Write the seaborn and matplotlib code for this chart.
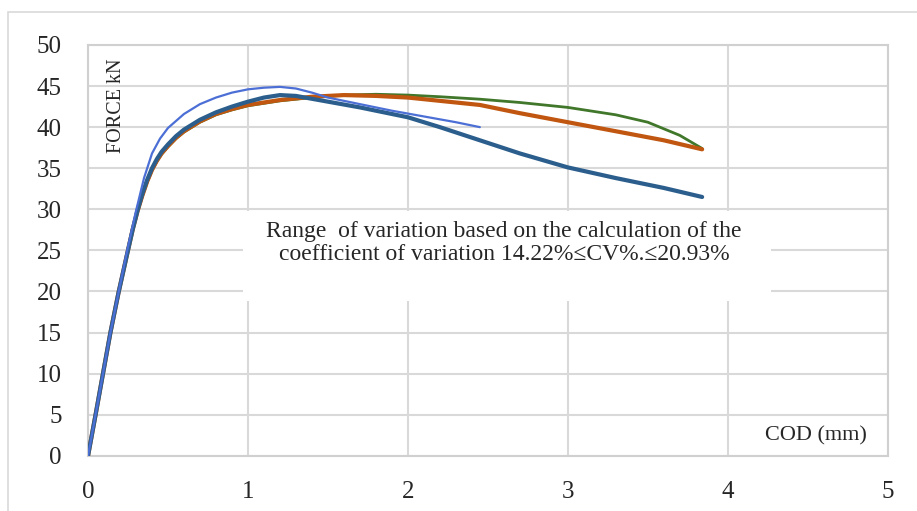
import matplotlib
matplotlib.use("Agg")
import matplotlib.pyplot as plt
import seaborn as sns
import pandas as pd
from matplotlib.patches import Rectangle

# COD (mm) / force (kN) readings for each specimen
cod_a = [0, 0.05, 0.10, 0.14, 0.19, 0.245, 0.30, 0.35, 0.40, 0.45, 0.50, 0.60, 0.70, 0.80,
         0.90, 1.00, 1.10, 1.20, 1.30, 1.40, 1.50, 1.70, 1.90, 2.10, 2.30, 2.45]
force_a = [0, 5.3, 10.7, 15.0, 19.8, 25.0, 29.8, 33.8, 36.8, 38.6, 39.9, 41.6, 42.8, 43.6,
           44.2, 44.6, 44.8, 44.9, 44.7, 44.2, 43.6, 42.8, 42.0, 41.3, 40.6, 40.0]

cod_b = [0, 0.05, 0.10, 0.14, 0.19, 0.245, 0.28, 0.31, 0.34, 0.37, 0.40, 0.43, 0.46, 0.50,
         0.55, 0.60, 0.70, 0.80, 0.90, 1.00, 1.10, 1.20, 1.30, 1.50, 1.70, 1.85, 2.00, 2.20,
         2.45, 2.70, 3.00, 3.30, 3.60, 3.84]
force_b = [0, 5.3, 10.7, 15.0, 19.8, 24.6, 27.6, 29.9, 31.9, 33.6, 35.0, 36.1, 37.0, 37.9,
           38.9, 39.7, 40.9, 41.8, 42.5, 43.1, 43.6, 43.9, 43.8, 43.1, 42.4, 41.8, 41.2, 40.0,
           38.4, 36.8, 35.1, 33.8, 32.6, 31.5]

cod_c = [0, 0.05, 0.10, 0.14, 0.19, 0.245, 0.28, 0.31, 0.34, 0.37, 0.40, 0.43, 0.46, 0.50,
         0.55, 0.60, 0.70, 0.80, 0.90, 1.00, 1.20, 1.40, 1.60, 1.80, 2.00, 2.20, 2.45, 2.70,
         3.00, 3.30, 3.60, 3.84]
force_c = [0, 5.3, 10.7, 15.0, 19.8, 24.6, 27.6, 29.8, 31.7, 33.4, 34.8, 35.9, 36.8, 37.7,
           38.7, 39.5, 40.7, 41.6, 42.2, 42.7, 43.3, 43.7, 43.9, 43.8, 43.6, 43.2, 42.7, 41.7,
           40.6, 39.5, 38.4, 37.3]

cod_d = [0, 0.05, 0.10, 0.14, 0.19, 0.245, 0.28, 0.31, 0.34, 0.37, 0.40, 0.43, 0.46, 0.50,
         0.55, 0.60, 0.70, 0.80, 0.90, 1.00, 1.20, 1.40, 1.60, 1.80, 2.00, 2.20, 2.45, 2.70,
         3.00, 3.30, 3.50, 3.70, 3.84]
force_d = [0, 5.3, 10.7, 15.0, 19.8, 24.6, 27.5, 29.7, 31.6, 33.3, 34.7, 35.8, 36.7, 37.6,
           38.6, 39.4, 40.6, 41.5, 42.1, 42.6, 43.2, 43.6, 43.9, 44.0, 43.9, 43.7, 43.4, 43.0,
           42.4, 41.5, 40.6, 39.0, 37.4]

specimens = ["A", "B", "C", "D"]
colors = {"A": "#4C6FD6", "B": "#2B5E8C", "C": "#C0560F", "D": "#40772A"}
widths = {"A": 1.6, "B": 3.0, "C": 3.0, "D": 2.0}

x_ticks = [0, 1, 2, 3, 4, 5]
y_ticks = [0, 5, 10, 15, 20, 25, 30, 35, 40, 45, 50]
note = ("Range  of variation based on the calculation of the\n"
        "coefficient of variation 14.22%\u2264CV%.\u226420.93%")

frames = []
for name, xs, ys in [("A", cod_a, force_a), ("B", cod_b, force_b),
                     ("C", cod_c, force_c), ("D", cod_d, force_d)]:
    frames.append(pd.DataFrame({"cod": xs, "force": ys, "specimen": name}))
data = pd.concat(frames, ignore_index=True)

sns.set_theme(style="white")
plt.rcParams["font.family"] = ["Liberation Serif", "DejaVu Serif"]

fig = plt.figure(figsize=(9.17, 5.11), dpi=100)
ax = fig.add_axes([0.096, 0.108, 0.872, 0.804])

for name in ["D", "C", "B", "A"]:
    sub = data[data["specimen"] == name]
    sns.lineplot(data=sub, x="cod", y="force", sort=False, estimator=None,
                 color=colors[name], linewidth=widths[name], ax=ax, zorder=3)

ax.set_xlim(0, 5)
ax.set_ylim(0, 50)
ax.set_xticks(x_ticks)
ax.set_yticks(y_ticks)
ax.tick_params(axis="both", labelsize=18, length=0, colors="#262626")
ax.tick_params(axis="x", pad=18)
ax.tick_params(axis="y", pad=19)
ax.set_xlabel("")
ax.set_ylabel("")
ax.grid(True, color="#D9D9D9", linewidth=1.5, zorder=0)
ax.set_axisbelow(True)
for sp in ax.spines.values():
    sp.set_color("#D0D0D0")
    sp.set_linewidth(1.5)

ax.text(0.18, 48.3, "FORCE kN", rotation=90, ha="center", va="top",
        fontsize=14.5, color="#262626")
ax.text(4.87, 2.4, "COD (mm)", ha="right", va="center", fontsize=16, color="#262626")

# white panel behind the note
ax.add_patch(Rectangle((0.97, 18.8), 3.3, 11.0, facecolor="white",
                       edgecolor="none", zorder=2))
ax.text(2.6, 25.9, note, ha="center", va="center", fontsize=17, color="#262626",
        linespacing=1.1, zorder=5)

# light outer frame
fig.patches.append(Rectangle((8 / 917, -0.05), 1.2, 1 - 12 / 511 + 0.05,
                             transform=fig.transFigure, fill=False,
                             edgecolor="#D9D9D9", linewidth=1.2))

fig.savefig("out.png", dpi=100, facecolor="white")
